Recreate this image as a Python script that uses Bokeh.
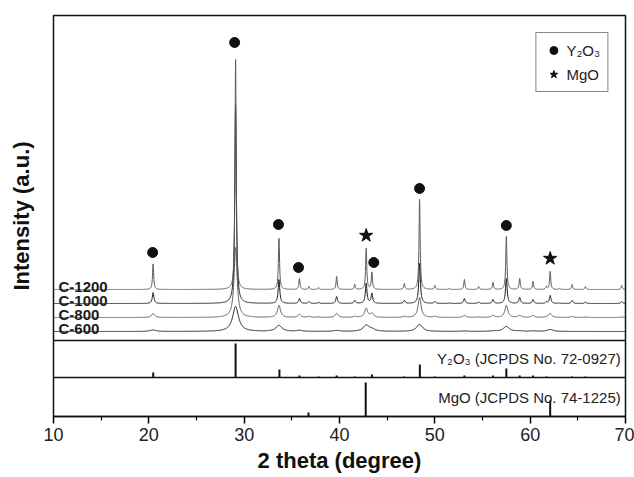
import numpy as np
from bokeh.plotting import figure
from bokeh.models import (FixedTicker, Legend, LegendItem, Span, Range1d)
from bokeh.embed import file_html
from bokeh.resources import INLINE
from bokeh.core.properties import value

# ---------------- data ----------------
samples = ["C-600", "C-800", "C-1000", "C-1200"]
sample_offsets = [85, 99, 113, 127]          # stacking offsets (a.u.)
sample_colors = ["#1a1a1a", "#5a5a5a", "#1a1a1a", "#5a5a5a"]
sample_fwhm = [0.75, 0.38, 0.2, 0.14]        # peak widths (deg)

peak_pos = [20.45, 29.1, 33.65, 35.8, 36.8, 37.8, 39.7, 41.6, 42.8, 43.4,
            46.8, 48.4, 50.0, 51.5, 53.1, 54.6, 56.1, 57.5, 58.9, 60.3,
            61.7, 62.1, 63.1, 64.4, 65.8, 69.6]
h_600 = [1.5, 25, 6, 1, 0, 0, 1, 0, 6, 2,
         0, 7, 0, 0, 0.5, 0, 0.5, 5, 0.5, 0.5,
         0, 2, 0, 0, 0, 0]
h_800 = [4, 70, 12, 3, 1, 0.5, 4, 1, 9, 4,
         1, 20, 1, 0, 2, 0.5, 2, 12, 2, 2,
         0.5, 4, 0, 1, 0.5, 0.5]
h_1000 = [11, 200, 24, 5, 2, 1, 7, 3, 20, 10,
          3, 40, 2, 0.5, 5, 1.5, 4, 25, 6, 4,
          1.5, 8, 0.5, 3, 1.5, 2]
h_1200 = [26, 230, 52, 11, 3, 2, 13, 5, 41, 17,
          6, 90, 4, 1, 10, 3, 7, 53, 11, 8,
          3, 18, 1, 5, 3, 4]
sample_heights = [h_600, h_800, h_1000, h_1200]

# reference patterns
y2o3_ref_pos = [20.46, 29.1, 33.7, 35.8, 37.8, 39.7, 41.6, 43.4, 46.8, 48.43,
                50.0, 53.1, 56.1, 57.5, 58.9, 60.3, 61.7, 64.4, 65.8]
y2o3_ref_int = [5, 34, 8, 2, 1, 2, 1, 3, 1, 13,
                1, 2, 2, 9, 2, 2, 1, 1, 1]
mgo_ref_pos = [36.75, 42.75, 62.1]
mgo_ref_int = [4, 34, 16]

# peak markers (phase identification)
y2o3_mark_x = [20.4, 29.0, 33.6, 35.7, 43.6, 48.4, 57.5]
y2o3_mark_y = [164, 374, 192, 149, 154, 228, 191]
mgo_mark_x = [42.8, 62.1]
mgo_mark_y = [181, 158]

x_ticks = [10, 20, 30, 40, 50, 60, 70]
x_minor = [15, 25, 35, 45, 55, 65]

# panel boundaries (a.u.)
Y_TOP = 401
Y2O3_BASE = 39
MAIN_BASE = 76

FONT = "Liberation Sans"

# ---------------- figure ----------------
p = figure(width=634, height=477, output_backend="svg", toolbar_location=None,
           x_range=Range1d(10, 70), y_range=Range1d(0, Y_TOP),
           min_border_left=53, min_border_right=9, min_border_top=15,
           min_border_bottom=61)
p.background_fill_color = "white"
p.border_fill_color = "white"
p.grid.visible = False
p.outline_line_color = "#111111"
p.outline_line_width = 1.5

ax = p.xaxis[0]
ax.ticker = FixedTicker(ticks=x_ticks, minor_ticks=x_minor)
ax.axis_line_width = 1.5
ax.axis_line_color = "#111111"
ax.major_tick_in = 0
ax.major_tick_out = 7
ax.minor_tick_in = 0
ax.minor_tick_out = 4
ax.major_tick_line_width = 1.5
ax.minor_tick_line_width = 1.2
ax.major_label_text_font = FONT
ax.major_label_text_font_size = "18px"
ax.major_label_text_color = "#222222"
ax.major_label_standoff = 4
ax.axis_label = "2 theta (degree)"
ax.axis_label_text_font = FONT
ax.axis_label_text_font_style = "bold"
ax.axis_label_text_font_size = "22px"
ax.axis_label_text_color = "#111111"
ax.axis_label_standoff = 4

ay = p.yaxis[0]
ay.ticker = FixedTicker(ticks=[])
ay.axis_line_color = None
ay.major_tick_line_color = None
ay.minor_tick_line_color = None
ay.major_label_text_font_size = "0px"
ay.axis_label = "Intensity (a.u.)"
ay.axis_label_text_font = FONT
ay.axis_label_text_font_style = "bold"
ay.axis_label_text_font_size = "22px"
ay.axis_label_text_color = "#111111"
ay.axis_label_standoff = 20

# ---------------- sample patterns ----------------
tt = np.linspace(10, 70, 3001)
for name, off, col, w, hs in zip(samples, sample_offsets, sample_colors,
                                 sample_fwhm, sample_heights):
    g = (w / 2.0) ** 2
    y = np.full_like(tt, float(off))
    for x0, h in zip(peak_pos, hs):
        if h > 0:
            y += h * g / ((tt - x0) ** 2 + g)
    p.line(tt, y, line_color=col, line_width=1)

p.text(x=[10.52] * 4, y=[o + 3 for o in sample_offsets], text=samples,
       text_font=value(FONT), text_font_style="bold", text_font_size="15px",
       text_color="#1a1a1a", text_baseline="alphabetic", text_align="left")

# ---------------- reference panels ----------------
for loc in (Y2O3_BASE, MAIN_BASE):
    p.add_layout(Span(location=loc, dimension="width", line_color="#111111",
                      line_width=1.5))

p.segment(x0=y2o3_ref_pos, x1=y2o3_ref_pos, y0=[Y2O3_BASE] * len(y2o3_ref_pos),
          y1=[Y2O3_BASE + v for v in y2o3_ref_int], line_color="#111111",
          line_width=2)
p.segment(x0=mgo_ref_pos, x1=mgo_ref_pos, y0=[0] * len(mgo_ref_pos),
          y1=mgo_ref_int, line_color="#111111", line_width=2)

p.text(x=[69.5, 69.5], y=[58, 19],
       text=["Y₂O₃ (JCPDS No. 72-0927)", "MgO (JCPDS No. 74-1225)"],
       text_font=value(FONT), text_font_size="15px", text_color="#222222",
       text_align="right", text_baseline="alphabetic")

# ---------------- markers + legend ----------------
r_c = p.scatter(y2o3_mark_x, y2o3_mark_y, marker="circle", size=10,
                fill_color="#111111", line_color="#111111")
r_s = p.scatter(mgo_mark_x, mgo_mark_y, marker="star", size=14,
                fill_color="#111111", line_color="#111111")

legend = Legend(items=[LegendItem(label="Y₂O₃", renderers=[r_c]),
                       LegendItem(label="MgO", renderers=[r_s])],
                location="top_right")
legend.margin = 17
legend.padding = 7
legend.spacing = 4
legend.label_standoff = 3
legend.glyph_width = 20
legend.glyph_height = 20
legend.label_text_font = FONT
legend.label_text_font_size = "15px"
legend.label_text_color = "#222222"
legend.border_line_color = "#111111"
legend.border_line_width = 1
legend.background_fill_color = "white"
legend.background_fill_alpha = 1.0
p.add_layout(legend)

open("out.html", "w").write(file_html(p, INLINE))
